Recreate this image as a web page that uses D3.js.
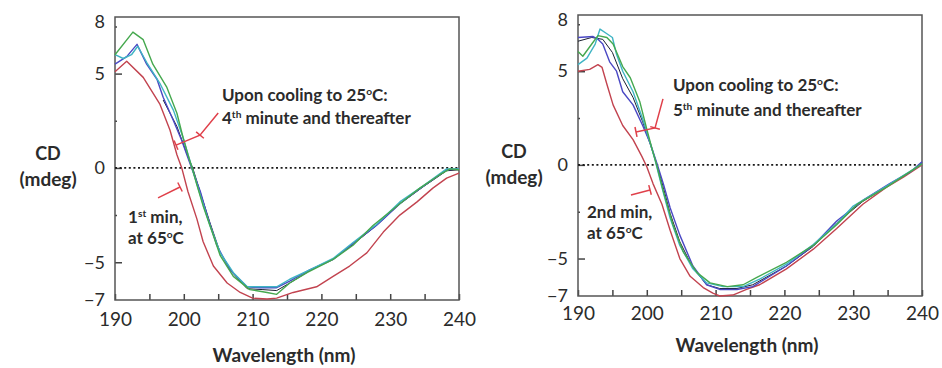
<!DOCTYPE html>
<html lang="en">
<head>
<meta charset="UTF-8">
<script src="https://cdn.jsdelivr.net/npm/d3@7/dist/d3.min.js"></script>
<title>CD spectra</title>
<style>
  * { margin: 0; padding: 0; box-sizing: border-box; }
  body, html { width: 942px; height: 368px; background: #fff; overflow: hidden; }
  svg { display: block; font-family: Lato, "Open Sans", sans-serif; }
</style>
</head>
<body>
<svg id="chart" width="942" height="368"></svg>
<script>
// axis values
var xTicks = [190, 195, 200, 205, 210, 215, 220, 225, 230, 235, 240];
var xLabels = [190, 200, 210, 220, 230, 240];
var yMajorTicks = [-5, 0, 5];
var yMinorTicks = [-2.5, 2.5, 7.5];
var yLabels = [-7, -5, 0, 5, 8];

// left panel: [wavelength nm, CD mdeg]
var leftRed = [[190,5.1],[191.7,5.65],[194.1,4.8],[196.5,3.4],[198,2.0],[199,0.7],[199.7,0],[200.6,-1.25],
  [201.9,-2.7],[202.8,-3.9],[204.3,-5.2],[206.3,-6.1],[208.2,-6.6],[210,-6.9],[212.1,-6.95],[213.5,-6.9],
  [215.9,-6.6],[219.3,-6.3],[221.7,-5.75],[224.1,-5.2],[226.6,-4.5],[229,-3.4],[231.4,-2.5],[233.9,-1.8],
  [236.2,-1.07],[238.2,-0.54],[240,-0.27]];
var leftBlue = [[190,5.5],[191.7,5.9],[193.2,6.55],[194.6,5.5],[196.1,4.7],[197,3.75],[198.5,2.5],[199.7,1.45],
  [200.6,0.54],[201.3,-0.16],[202.4,-1.25],[203.4,-2.5],[204.8,-4.1],[206.7,-5.4],[209.2,-6.3],[211.1,-6.35],
  [213.5,-6.35],[215.4,-6.0],[218.3,-5.4],[221.7,-4.85],[224.6,-4.0],[228,-3.05],[231.4,-1.9],[234.8,-0.97],
  [238.2,-0.1],[240,-0.05]];
var leftCyan = [[190,6.0],[191.2,5.8],[192.4,6.0],[193.3,6.45],[194.6,5.6],[196.5,4.5],[198.5,3.05],[199.9,1.6],
  [201.2,0],[202.4,-1.45],[203.8,-3.05],[205.3,-4.5],[207.2,-5.55],[209.2,-6.3],[211.5,-6.3],[213.5,-6.3],
  [215.4,-5.9],[218.3,-5.4],[221.7,-4.8],[224.6,-3.95],[228,-3.0],[231.4,-1.8],[234.8,-0.95],[238.2,-0.05],[240,-0.05]];
var leftGreen = [[190,6.0],[192.6,7.2],[194.1,6.8],[195.5,5.5],[197.5,4.3],[199,2.9],[199.9,1.6],[200.6,0.7],
  [201.2,0],[201.9,-0.9],[202.8,-2.0],[203.8,-3.05],[205.3,-4.65],[207.2,-5.75],[209.6,-6.45],[212.1,-6.6],
  [213.5,-6.7],[215.4,-6.1],[217.9,-5.55],[221.7,-4.85],[224.6,-4.1],[227.5,-3.05],[231.4,-1.9],[234.3,-1.07],
  [237.2,-0.36],[238.7,-0.05],[240,-0.1]];
var leftBlack = [[197,3.6],[199,2.2],[200.6,0.6],[201.3,0],[202.4,-1.3],[203.8,-2.9],[205.3,-4.5],[207.2,-5.6],
  [209.2,-6.4],[211.5,-6.45],[213.5,-6.5],[215.4,-6.1],[218.3,-5.45],[221.7,-4.85],[224.6,-4.05],[228,-3.05],
  [231.4,-1.9],[234.8,-1.0],[238.2,-0.15],[240,-0.1]];

// right panel
var rightRed = [[190,5.0],[191.7,5.1],[192.9,5.35],[193.5,5.2],[194.2,4.3],[195.1,3.2],[196.5,2.1],[198,1.35],
  [199.3,0.44],[200,-0.1],[200.9,-1.0],[202.2,-2.1],[203.4,-3.5],[204.8,-5.0],[206.3,-5.95],[208.2,-6.55],
  [209.6,-6.85],[210.6,-7.0],[212.5,-6.95],[214.5,-6.65],[216.4,-6.4],[220.3,-5.55],[224.2,-4.5],[227.6,-3.4],
  [231.4,-2.1],[234.8,-1.2],[237.3,-0.65],[240,0]];
var rightBlue = [[190,6.8],[192.2,6.85],[192.9,6.7],[193.6,6.45],[194.6,5.5],[195.6,5.0],[196.5,3.9],[198,3.2],
  [199.4,2.1],[200.5,1.15],[201.5,0.05],[202.4,-1.0],[203.4,-2.3],[204.8,-3.75],[206.7,-5.4],[208.7,-6.4],
  [210.6,-6.65],[213.1,-6.65],[215.4,-6.5],[220.3,-5.4],[224.2,-4.3],[227.6,-3.0],[231.4,-1.9],[235.3,-1.0],
  [238.3,-0.38],[240,0.16]];
var rightCyan = [[190,5.35],[191.3,5.7],[192.5,6.45],[193.2,7.25],[194.2,7.0],[195,6.8],[195.6,5.9],[196.5,5.0],
  [198,3.9],[199.4,2.45],[200.5,1.15],[201.2,0.27],[202.2,-1.2],[203.4,-2.85],[204.8,-4.3],[206.7,-5.55],
  [208.7,-6.3],[211.1,-6.5],[214,-6.5],[216.4,-6.1],[220.3,-5.3],[224.2,-4.25],[227.6,-3.15],[230,-2.2],
  [234.8,-1.15],[240,0.05]];
var rightGreen = [[190,6.05],[190.7,5.8],[192,6.45],[192.9,6.9],[194.2,6.8],[195.1,6.45],[196.5,5.25],[197.6,4.65],
  [199,3.35],[200,1.9],[200.8,0.8],[201.5,-0.1],[202.4,-1.4],[203.8,-3.2],[205.3,-4.65],[207.3,-5.75],
  [209.2,-6.3],[211.7,-6.5],[214,-6.4],[216,-6.0],[220.3,-5.2],[224.2,-4.3],[227.6,-3.2],[230.6,-2.1],
  [234.8,-1.2],[240,0.05]];
var rightBlack = [[190,6.6],[192,6.8],[193.6,6.7],[195,6.0],[196.5,4.6],[198,3.6],[199.4,2.3],[200.5,1.1],
  [201.4,0.1],[202.4,-1.2],[203.4,-2.6],[204.8,-4.1],[206.7,-5.5],[208.7,-6.4],[210.6,-6.6],[213.1,-6.6],
  [215.4,-6.4],[220.3,-5.4],[224.2,-4.35],[227.6,-3.1],[231.4,-1.95],[235.3,-1.05],[238.3,-0.4],[240,0.1]];

var colors = { red: '#c2434f', blue: '#4a48c4', cyan: '#3fb4c4', green: '#45a84e', black: '#1c2030' };

var svg = d3.select('#chart');

function addText(g, x, y, parts, opts) {
  var t = g.append('text')
    .attr('x', x).attr('y', y)
    .attr('font-size', opts.size)
    .attr('font-weight', opts.weight || 'bold')
    .attr('fill', opts.fill || '#2b2b2b')
    .attr('text-anchor', opts.anchor || 'start');
  parts.forEach(function (p) {
    if (typeof p === 'string') {
      t.append('tspan').text(p);
    } else {
      t.append('tspan').attr('baseline-shift', 'super').attr('font-size', opts.size * 0.6).text(p.sup);
    }
  });
  return t;
}

function drawPanel(p) {
  var x = d3.scaleLinear().domain([190, 240]).range([p.left, p.right]);
  var y = d3.scaleLinear().domain([-7, 8]).range([p.bottom, p.top]);
  var g = svg.append('g');

  // ticks inside the frame
  var xt = g.append('g').attr('transform', 'translate(0,' + p.bottom + ')')
    .call(d3.axisBottom(x).tickValues(xTicks).tickSizeInner(-6).tickSizeOuter(0).tickFormat(''));
  var xl = g.append('g').attr('transform', 'translate(0,' + p.bottom + ')')
    .call(d3.axisBottom(x).tickValues(xLabels).tickSize(0).tickPadding(p.xPad).tickFormat(d3.format('d')));
  var ym = g.append('g').attr('transform', 'translate(' + p.left + ',0)')
    .call(d3.axisLeft(y).tickValues(yMajorTicks).tickSizeInner(-7).tickSizeOuter(0).tickFormat(''));
  var yn = g.append('g').attr('transform', 'translate(' + p.left + ',0)')
    .call(d3.axisLeft(y).tickValues(yMinorTicks).tickSizeInner(-2).tickSizeOuter(0).tickFormat(''));
  var yl = g.append('g').attr('transform', 'translate(' + p.left + ',0)')
    .call(d3.axisLeft(y).tickValues(yLabels).tickSize(0).tickPadding(10).tickFormat(d3.format('d')));

  [xt, xl, ym, yn, yl].forEach(function (a) {
    a.select('.domain').remove();
    a.selectAll('line').attr('stroke', '#444').attr('stroke-width', 1.5);
    a.selectAll('text').attr('font-family', 'Lato, sans-serif').attr('fill', '#2b2b2b');
  });
  xl.selectAll('text').attr('font-size', 19);
  yl.selectAll('text').attr('font-size', 18);
  yl.selectAll('text').filter(function (d) { return d === 8; }).attr('dy', '0.6em');

  // frame
  g.append('rect')
    .attr('x', p.left).attr('y', p.top)
    .attr('width', p.right - p.left).attr('height', p.bottom - p.top)
    .attr('fill', 'none').attr('stroke', '#555').attr('stroke-width', 1.5);

  // zero line
  g.append('line')
    .attr('x1', x(190)).attr('x2', x(240)).attr('y1', y(0)).attr('y2', y(0))
    .attr('stroke', '#1a1a1a').attr('stroke-width', 1.8).attr('stroke-dasharray', '2,2.6');

  var line = d3.line().x(function (d) { return x(d[0]); }).y(function (d) { return y(d[1]); });
  p.series.forEach(function (s) {
    g.append('path').datum(s.data)
      .attr('d', line)
      .attr('fill', 'none')
      .attr('stroke', colors[s.color])
      .attr('stroke-width', s.color === 'black' ? 1 : 1.4)
      .attr('stroke-linejoin', 'round');
  });

  // red pointer lines, tick bars at the given points
  p.pointers.forEach(function (pt) {
    g.append('path').datum(pt.path).attr('d', line)
      .attr('fill', 'none').attr('stroke', '#e0404a').attr('stroke-width', 1.5);
    pt.bars.forEach(function (i) {
      var a = pt.path[i], b = pt.path[i === 0 ? 1 : i - 1];
      var dx = x(b[0]) - x(a[0]), dy = y(b[1]) - y(a[1]);
      var len = Math.sqrt(dx * dx + dy * dy);
      var nx = -dy / len * 5, ny = dx / len * 5;
      g.append('line')
        .attr('x1', x(a[0]) - nx).attr('y1', y(a[1]) - ny)
        .attr('x2', x(a[0]) + nx).attr('y2', y(a[1]) + ny)
        .attr('stroke', '#e0404a').attr('stroke-width', 1.5);
    });
  });

  p.notes.forEach(function (n) {
    addText(g, x(n.at[0]), y(n.at[1]), n.parts, { size: 17 });
  });

  // axis titles
  addText(g, p.cdX, p.cdY, ['CD'], { size: 18, anchor: 'middle' });
  addText(g, p.cdX, p.cdY + 26, ['(mdeg)'], { size: 19, anchor: 'middle' });
  addText(g, (p.left + p.right) / 2 - 3, p.titleY, ['Wavelength (nm)'], { size: 19, anchor: 'middle' });
}

drawPanel({
  left: 115, right: 459, top: 17, bottom: 300, xPad: 13,
  cdX: 48, cdY: 160, titleY: 362,
  series: [
    { color: 'black', data: leftBlack },
    { color: 'red', data: leftRed },
    { color: 'blue', data: leftBlue },
    { color: 'cyan', data: leftCyan },
    { color: 'green', data: leftGreen }
  ],
  pointers: [
    { path: [[205.0, 2.91], [202.35, 1.74], [198.87, 1.21]], bars: [1, 2] },
    { path: [[196.25, -1.59], [199.45, -1.01]], bars: [1] }
  ],
  notes: [
    { at: [205.55, 3.55], parts: ['Upon cooling to 25', { sup: 'o' }, 'C:'] },
    { at: [205.55, 2.33], parts: ['4', { sup: 'th' }, ' minute and thereafter'] },
    { at: [191.9, -2.92], parts: ['1', { sup: 'st' }, ' min,'] },
    { at: [191.9, -4.03], parts: ['at 65', { sup: 'o' }, 'C'] }
  ]
});

drawPanel({
  left: 578, right: 922, top: 15, bottom: 296, xPad: 11,
  cdX: 514, cdY: 158, titleY: 352,
  series: [
    { color: 'black', data: rightBlack },
    { color: 'red', data: rightRed },
    { color: 'blue', data: rightBlue },
    { color: 'cyan', data: rightCyan },
    { color: 'green', data: rightGreen }
  ],
  pointers: [
    { path: [[202.35, 3.52], [201.2, 1.97], [198.43, 1.76]], bars: [1, 2] },
    { path: [[197.7, -1.61], [200.47, -1.34]], bars: [1] }
  ],
  notes: [
    { at: [203.8, 3.95], parts: ['Upon cooling to 25', { sup: 'o' }, 'C:'] },
    { at: [203.8, 2.61], parts: ['5', { sup: 'th' }, ' minute and thereafter'] },
    { at: [191.3, -2.84], parts: ['2nd min,'] },
    { at: [191.3, -3.96], parts: ['at 65', { sup: 'o' }, 'C'] }
  ]
});
</script>
</body>
</html>
